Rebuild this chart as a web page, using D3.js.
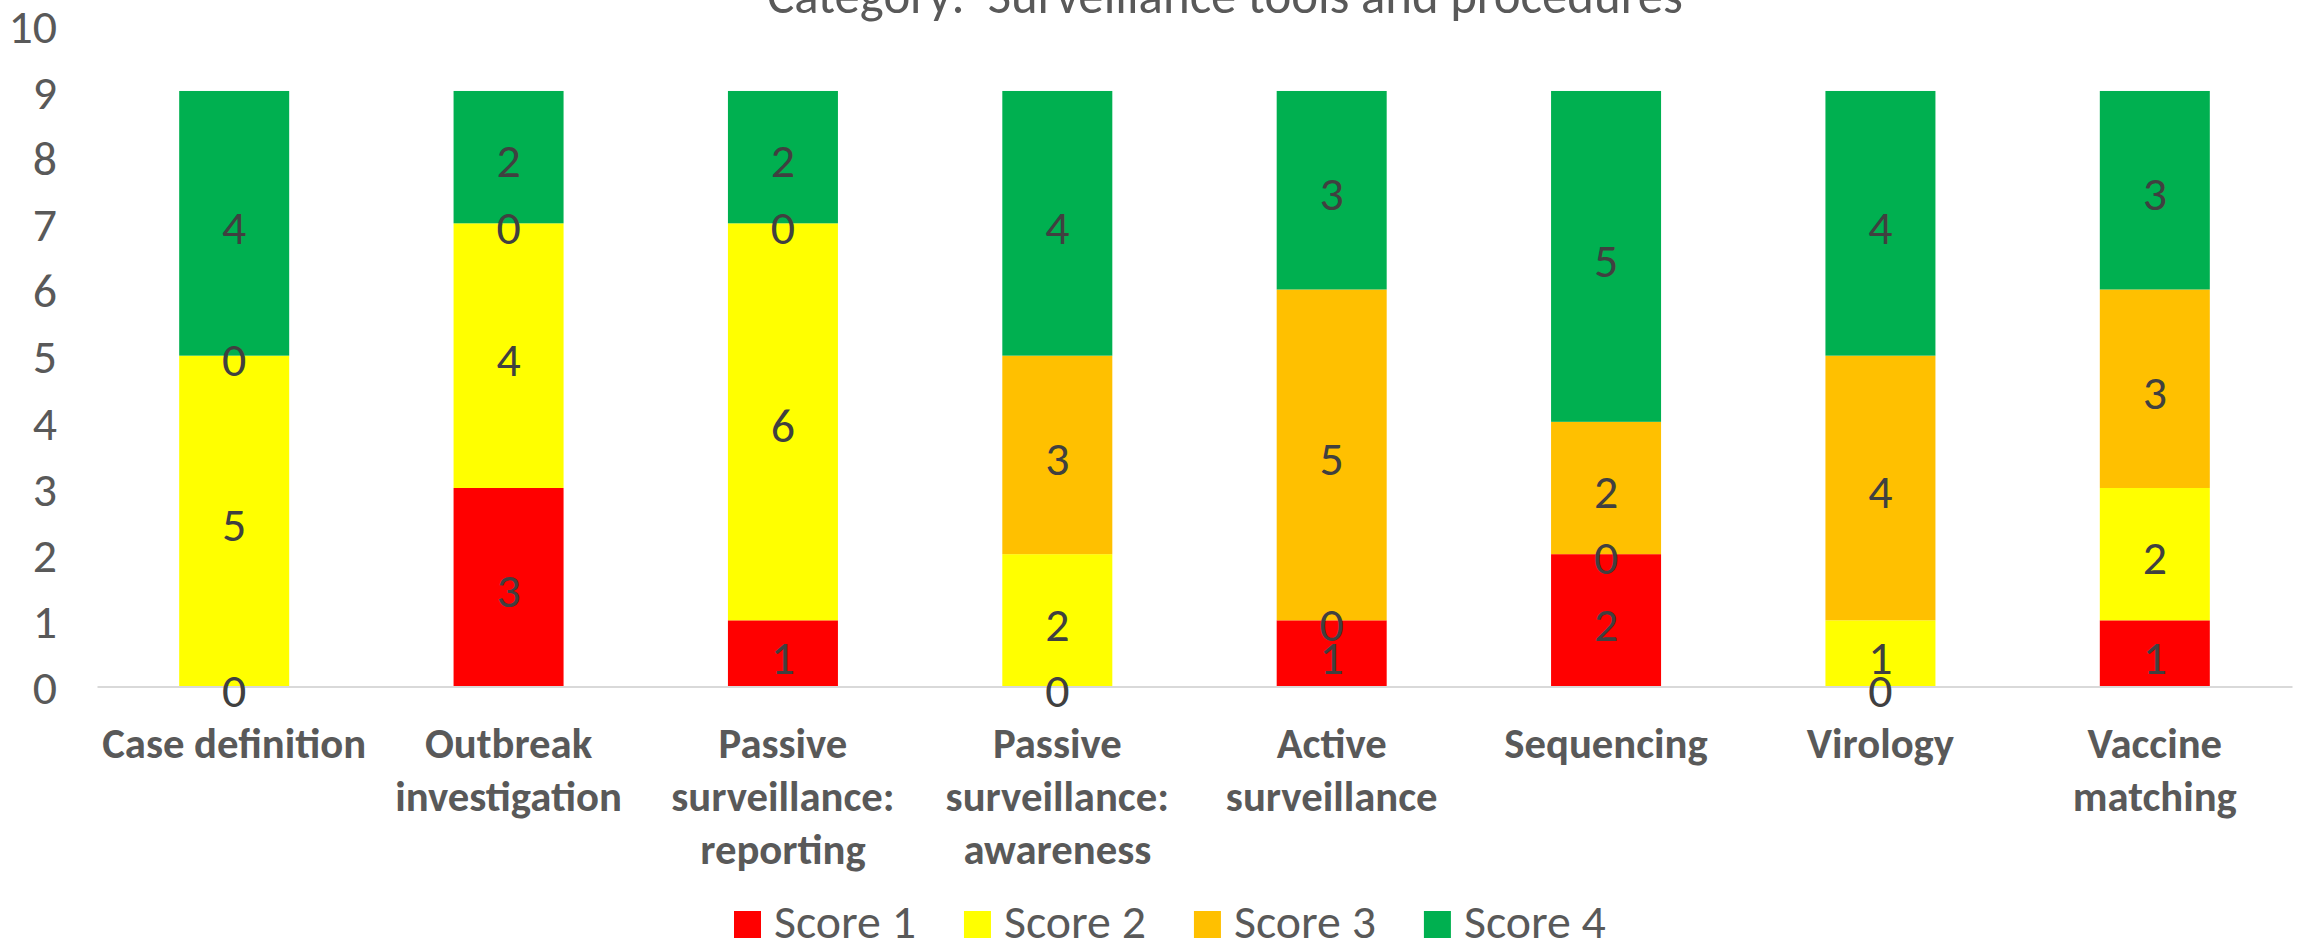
<!DOCTYPE html>
<html><head><meta charset="utf-8">
<script src="https://cdn.jsdelivr.net/npm/d3@7"></script>
<style>body{margin:0;background:#fff} svg{display:block} text{font-family:Carlito,'Open Sans',sans-serif}</style>
</head><body>
<svg id="c" width="2298" height="945"></svg>
<script>
const categories = ["Case definition","Outbreak investigation","Passive surveillance: reporting","Passive surveillance: awareness","Active surveillance","Sequencing","Virology","Vaccine matching"];
const categoryLines = [["Case definition"],["Outbreak","investigation"],["Passive","surveillance:","reporting"],["Passive","surveillance:","awareness"],["Active","surveillance"],["Sequencing"],["Virology"],["Vaccine","matching"]];
const seriesNames = ["Score 1","Score 2","Score 3","Score 4"];
const score1 = [0,3,1,0,1,2,0,1];
const score2 = [5,4,6,2,0,0,1,2];
const score3 = [0,0,0,3,5,2,4,3];
const score4 = [4,2,2,4,3,5,4,3];
const seriesColors = ["#FF0000","#FFFF00","#FFC000","#00B050"];
const yTicks = [0,1,2,3,4,5,6,7,8,9,10];
const chartTitle = "Category:  Surveillance tools and procedures";

const svg = d3.select("#c");
function fitSize(str, weight, target){
  const t = svg.append("text").attr("font-size",100).attr("font-weight",weight).style("white-space","pre").text(str);
  const w = t.node().getComputedTextLength(); t.remove();
  return 100*target/w;
}
const fsTitle = fitSize(chartTitle, "normal", 916);
const fsBase = fitSize("Score 1", "normal", 142);
const fsCat = fitSize("Case definition", "bold", 264);

const rows = categories.map((c,i)=>({cat:c, "Score 1":score1[i], "Score 2":score2[i], "Score 3":score3[i], "Score 4":score4[i]}));
const stacked = d3.stack().keys(seriesNames)(rows);

const x = d3.scaleBand().domain(categories).range([97,2292]).padding(0);
const y = d3.scaleLinear().domain([0,10]).range([686.5,24.8]);
const barW = 110;

// bars
const g = svg.append("g");
stacked.forEach((s,si)=>{
  g.selectAll(null).data(s).enter().append("rect")
    .attr("x", d=>x(d.data.cat)+x.bandwidth()/2-barW/2)
    .attr("width", barW)
    .attr("y", d=>y(d[1]))
    .attr("height", d=>Math.max(0,y(d[0])-y(d[1])))
    .attr("fill", seriesColors[si]);
});

// x axis baseline
const xAxis = d3.axisBottom(x).tickSize(0).tickFormat("");
const xg = svg.append("g").attr("transform",`translate(0,${y(0)})`).call(xAxis);
xg.select(".domain").attr("stroke","#d9d9d9").attr("stroke-width",2);

// category labels
categories.forEach((c,i)=>{
  const t = svg.append("text").attr("x", x(c)+x.bandwidth()/2).attr("y",758)
    .attr("text-anchor","middle").attr("font-weight","bold").attr("font-size",fsCat).attr("fill","#595959");
  categoryLines[i].forEach((ln,j)=>{
    t.append("tspan").attr("x", x(c)+x.bandwidth()/2).attr("y",758+j*53).text(ln);
  });
});

// y axis
const yAxis = d3.axisLeft(y).tickValues(yTicks).tickSize(0).tickPadding(0).tickFormat(d3.format("d"));
const yg = svg.append("g").attr("transform","translate(57,0)").call(yAxis);
yg.select(".domain").remove();
yg.selectAll("text").attr("font-size",fsBase).attr("fill","#595959").attr("font-family",null).attr("dy","0.36em");

// data labels
stacked.forEach((s,si)=>{
  svg.append("g").selectAll("text").data(s).enter().append("text")
    .attr("x", d=>x(d.data.cat)+x.bandwidth()/2)
    .attr("y", d=>y((d[0]+d[1])/2)+3)
    .attr("dy","0.36em")
    .attr("text-anchor","middle").attr("font-size",fsBase).attr("fill","#404040")
    .text(d=>d[1]-d[0]);
});

// title
svg.append("text").attr("x",1225).attr("y",13).attr("text-anchor","middle")
  .attr("font-size",fsTitle).attr("fill","#595959").style("white-space","pre").text(chartTitle);

// legend
let lx = 734;
seriesNames.forEach((n,i)=>{
  svg.append("rect").attr("x",lx).attr("y",911).attr("width",27).attr("height",27).attr("fill",seriesColors[i]);
  const t = svg.append("text").attr("x",lx+40).attr("y",938).attr("font-size",fsBase).attr("fill","#595959").text(n);
  lx = lx + 40 + t.node().getComputedTextLength() + 48;
});
</script>
</body></html>
